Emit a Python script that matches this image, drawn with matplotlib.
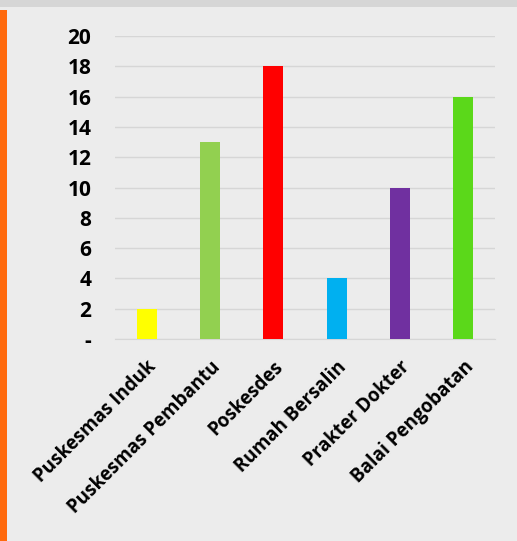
import matplotlib
matplotlib.use("Agg")
import matplotlib.pyplot as plt
from matplotlib.patches import Rectangle

categories = ["Puskesmas Induk", "Puskesmas Pembantu", "Poskesdes",
              "Rumah Bersalin", "Prakter Dokter", "Balai Pengobatan"]
values = [2, 13, 18, 4, 10, 16]
colors = ["#ffff00", "#92d050", "#ff0000", "#00b0f0", "#7030a0", "#5bd81a"]
yticks = [0, 2, 4, 6, 8, 10, 12, 14, 16, 18, 20]
ytick_labels = ["-", "2", "4", "6", "8", "10", "12", "14", "16", "18", "20"]

W, H = 517, 541
fig = plt.figure(figsize=(W / 100, H / 100), dpi=100)
fig.patch.set_facecolor("#ececec")

# decorative frame pieces
fig.patches.append(Rectangle((0, 1 - 7 / H), 1, 7 / H, transform=fig.transFigure,
                             facecolor="#d6d6d6", edgecolor="none", zorder=0))
fig.patches.append(Rectangle((0, 0), 7 / W, 1 - 10 / H, transform=fig.transFigure,
                             facecolor="#ff6a0d", edgecolor="none", zorder=0))

ax = fig.add_axes([115 / W, 1 - 339 / H, 380 / W, (339 - 36) / H])
ax.set_facecolor("none")
x = range(len(categories))
ax.bar(x, values, width=0.32, color=colors, zorder=3)
ax.set_xlim(-0.5, len(categories) - 0.5)
ax.set_ylim(0, 20)
ax.set_yticks(yticks)
ax.set_yticklabels(ytick_labels, fontsize=15, fontweight="bold", family="Open Sans")
ax.set_xticks(list(x))
ax.set_xticklabels(categories, rotation=45, ha="right", rotation_mode="anchor",
                   fontsize=13.5, fontweight="bold", family="Open Sans")
ax.tick_params(axis="both", length=0)
ax.tick_params(axis="y", pad=17)
ax.tick_params(axis="x", pad=13)
ax.grid(axis="y", color="#d6d6d6", linewidth=1, zorder=0)
for s in ["top", "right", "left"]:
    ax.spines[s].set_visible(False)
ax.spines["bottom"].set_color("#d6d6d6")

fig.savefig("out.png", dpi=100, facecolor=fig.get_facecolor())
